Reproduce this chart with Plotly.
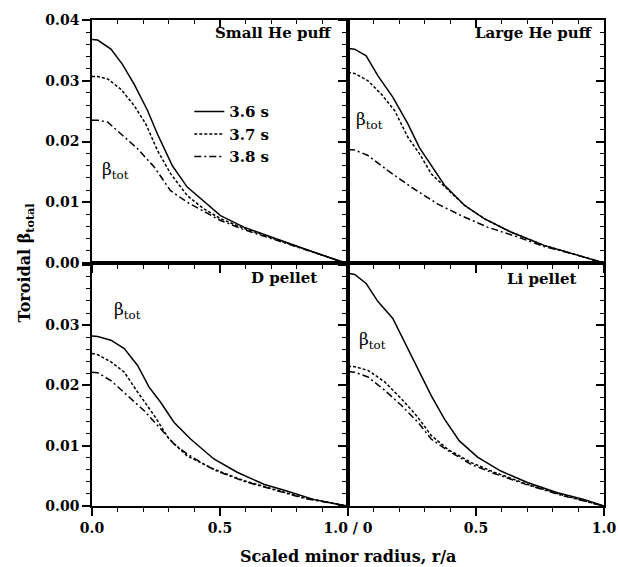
import plotly.graph_objects as go

# ---- data ----
times = ["3.6 s", "3.7 s", "3.8 s"]

# Panel 1: Small He puff
p1_x36 = [0.0, 0.022, 0.074, 0.119, 0.165, 0.217, 0.256, 0.314, 0.372, 0.424, 0.502, 0.593, 0.697, 0.826, 0.969, 1.0]
p1_y36 = [0.0368, 0.0367, 0.0352, 0.0327, 0.0294, 0.0251, 0.0212, 0.0160, 0.0125, 0.0106, 0.0078, 0.0059, 0.0043, 0.0024, 0.0003, 0.0]
p1_x37 = [0.0, 0.022, 0.061, 0.113, 0.165, 0.210, 0.256, 0.307, 0.372, 0.437, 0.502, 0.593, 0.697, 0.826, 0.969, 1.0]
p1_y37 = [0.0307, 0.0307, 0.0303, 0.0286, 0.0259, 0.0229, 0.0185, 0.0147, 0.0111, 0.0089, 0.0073, 0.0057, 0.0042, 0.0024, 0.0003, 0.0]
p1_x38 = [0.0, 0.022, 0.061, 0.113, 0.178, 0.243, 0.307, 0.372, 0.437, 0.502, 0.593, 0.697, 0.826, 0.969, 1.0]
p1_y38 = [0.0235, 0.0235, 0.0232, 0.0212, 0.0188, 0.0158, 0.0119, 0.0100, 0.0085, 0.0070, 0.0055, 0.0041, 0.0023, 0.0003, 0.0]

# Panel 2: Large He puff
p2_x36 = [0.0, 0.026, 0.071, 0.117, 0.175, 0.234, 0.279, 0.331, 0.377, 0.455, 0.532, 0.636, 0.766, 0.896, 0.987, 1.0]
p2_y36 = [0.0353, 0.0352, 0.0341, 0.0308, 0.0273, 0.0229, 0.0190, 0.0158, 0.0128, 0.0095, 0.0073, 0.0051, 0.0029, 0.0013, 0.0002, 0.0]
p2_x37 = [0.0, 0.026, 0.078, 0.130, 0.182, 0.234, 0.279, 0.325, 0.377, 0.455, 0.532, 0.636, 0.766, 0.896, 0.987, 1.0]
p2_y37 = [0.0314, 0.0312, 0.0300, 0.0278, 0.0251, 0.0207, 0.0180, 0.0147, 0.0126, 0.0095, 0.0073, 0.0051, 0.0029, 0.0013, 0.0002, 0.0]
p2_x38 = [0.0, 0.026, 0.078, 0.156, 0.247, 0.351, 0.442, 0.545, 0.662, 0.766, 0.896, 0.987, 1.0]
p2_y38 = [0.0187, 0.0186, 0.0177, 0.0152, 0.0125, 0.0097, 0.0078, 0.0059, 0.0043, 0.0027, 0.0013, 0.0002, 0.0]

# Panel 3: D pellet
p3_x36 = [0.0, 0.022, 0.074, 0.126, 0.178, 0.223, 0.268, 0.320, 0.385, 0.476, 0.567, 0.671, 0.761, 0.865, 0.969, 1.0]
p3_y36 = [0.0282, 0.0281, 0.0275, 0.0261, 0.0233, 0.0197, 0.0172, 0.0139, 0.0111, 0.0078, 0.0056, 0.0036, 0.0025, 0.0011, 0.0002, 0.0]
p3_x37 = [0.0, 0.022, 0.074, 0.126, 0.178, 0.243, 0.301, 0.372, 0.476, 0.593, 0.709, 0.826, 0.969, 1.0]
p3_y37 = [0.0253, 0.0251, 0.0239, 0.0222, 0.0189, 0.0150, 0.0111, 0.0083, 0.0061, 0.0042, 0.0028, 0.0014, 0.0002, 0.0]
p3_x38 = [0.0, 0.022, 0.074, 0.139, 0.204, 0.268, 0.320, 0.372, 0.476, 0.593, 0.709, 0.826, 0.969, 1.0]
p3_y38 = [0.0222, 0.0221, 0.0208, 0.0183, 0.0158, 0.0128, 0.0103, 0.0086, 0.0060, 0.0041, 0.0027, 0.0013, 0.0002, 0.0]

# Panel 4: Li pellet
p4_x36 = [0.0, 0.026, 0.071, 0.117, 0.175, 0.221, 0.273, 0.325, 0.377, 0.435, 0.506, 0.597, 0.701, 0.818, 0.922, 0.981, 1.0]
p4_y36 = [0.0386, 0.0384, 0.0369, 0.0339, 0.0311, 0.0272, 0.0228, 0.0183, 0.0144, 0.0108, 0.0081, 0.0058, 0.0039, 0.0022, 0.0011, 0.0002, 0.0]
p4_x37 = [0.0, 0.026, 0.078, 0.143, 0.208, 0.273, 0.325, 0.390, 0.481, 0.571, 0.701, 0.831, 0.981, 1.0]
p4_y37 = [0.0232, 0.0231, 0.0225, 0.0206, 0.0178, 0.0147, 0.0117, 0.0094, 0.0072, 0.0056, 0.0036, 0.0019, 0.0002, 0.0]
p4_x38 = [0.0, 0.026, 0.078, 0.143, 0.208, 0.273, 0.325, 0.390, 0.481, 0.571, 0.701, 0.831, 0.981, 1.0]
p4_y38 = [0.0223, 0.0222, 0.0214, 0.0192, 0.0167, 0.0139, 0.0111, 0.0092, 0.0069, 0.0054, 0.0035, 0.0018, 0.0002, 0.0]

panel_titles = ["Small He puff", "Large He puff", "D pellet", "Li pellet"]
x_alias_left = {"1.0": " "}
x_alias_right = {"0.0": "1.0 / 0"}
y_alias_bottom = {"0.04": " "}
x_major_inner = [0.5]
x_minor_pos = [0.1, 0.2, 0.3, 0.4, 0.6, 0.7, 0.8, 0.9]
y_major_inner = [0.01, 0.02, 0.03]
y_minor_pos = [0.002, 0.004, 0.006, 0.008, 0.012, 0.014, 0.016, 0.018,
               0.022, 0.024, 0.026, 0.028, 0.032, 0.034, 0.036, 0.038]

panels = [
    (p1_x36, p1_y36, p1_x37, p1_y37, p1_x38, p1_y38),
    (p2_x36, p2_y36, p2_x37, p2_y37, p2_x38, p2_y38),
    (p3_x36, p3_y36, p3_x37, p3_y37, p3_x38, p3_y38),
    (p4_x36, p4_y36, p4_x37, p4_y37, p4_x38, p4_y38),
]

FONT = "DejaVu Serif"
dashes = ["solid", "3px,2px", "7px,3px,2px,3px"]

fig = go.Figure()
for i, pdata in enumerate(panels):
    n = i + 1
    xa = "x" if n == 1 else f"x{n}"
    ya = "y" if n == 1 else f"y{n}"
    for k in range(3):
        fig.add_trace(go.Scatter(
            x=pdata[2 * k], y=pdata[2 * k + 1], mode="lines",
            line=dict(color="black", width=1.5, dash=dashes[k]),
            name=times[k], showlegend=(n == 1),
            xaxis=xa, yaxis=ya))

xdom = {1: [0, 0.5], 2: [0.5, 1], 3: [0, 0.5], 4: [0.5, 1]}
ydom = {1: [0.5, 1], 2: [0.5, 1], 3: [0, 0.5], 4: [0, 0.5]}
tickfont = dict(family=FONT, size=14, color="black", weight="bold")
TICK = "black"

layout = dict(
    template="none",
    width=618, height=567,
    margin=dict(l=92, r=14, t=20, b=61),
    plot_bgcolor="white", paper_bgcolor="white",
    showlegend=True,
    legend=dict(x=0.19, y=0.845, xanchor="left", yanchor="top",
                bgcolor="rgba(0,0,0,0)",
                font=dict(family=FONT, size=15, color="black", weight="bold"),
                tracegroupgap=0),
)

for n in range(1, 5):
    suffix = "" if n == 1 else str(n)
    is_bottom = n in (3, 4)
    is_left = n in (1, 3)
    yr = [0, 0.0403] if is_bottom else [0, 0.04]
    layout["xaxis" + suffix] = dict(
        domain=xdom[n], range=[0, 1], anchor="y" + suffix,
        showgrid=False, zeroline=False,
        showline=True, mirror=True, linecolor="black", linewidth=1.5,
        ticks="outside", ticklen=8, tickwidth=1.5, tickcolor=TICK,
        dtick=0.5, tick0=0, tickformat=".1f",
        labelalias=(x_alias_left if is_left else x_alias_right),
        minor=dict(ticks="outside", ticklen=4, tickwidth=1, tickcolor=TICK, dtick=0.1, tick0=0, showgrid=False),
        showticklabels=is_bottom, tickfont=tickfont)
    layout["yaxis" + suffix] = dict(
        domain=ydom[n], range=yr, anchor="x" + suffix,
        showgrid=False, zeroline=False,
        showline=True, mirror=True, linecolor="black", linewidth=1.5,
        ticks="outside", ticklen=8, tickwidth=1.5, tickcolor=TICK,
        dtick=0.01, tick0=0, tickformat=".2f",
        labelalias=(y_alias_bottom if is_bottom else {}),
        minor=dict(ticks="outside", ticklen=4, tickwidth=1, tickcolor=TICK, dtick=0.002, tick0=0, showgrid=False),
        showticklabels=is_left, tickfont=tickfont)

# overlay axes carrying the inward ticks on the top edges (panels 1, 2)
# and right edges (panels 2, 4)
overlay_specs = [
    ("xaxis5", "x", "y", x_major_inner, 8), ("xaxis6", "x", "y", x_minor_pos, 4),
    ("xaxis7", "x2", "y2", x_major_inner, 8), ("xaxis8", "x2", "y2", x_minor_pos, 4),
]
for name, over, anch, vals, ln in overlay_specs:
    layout[name] = dict(overlaying=over, side="top", anchor=anch, range=[0, 1],
                        showgrid=False, zeroline=False, showline=False,
                        ticks="inside", ticklen=ln, tickwidth=1.5 if ln == 8 else 1, tickcolor=TICK,
                        tickvals=vals, showticklabels=False)
yoverlay_specs = [
    ("yaxis5", "y2", "x2", y_major_inner, 8, [0, 0.04]), ("yaxis6", "y2", "x2", y_minor_pos, 4, [0, 0.04]),
    ("yaxis7", "y4", "x4", y_major_inner, 8, [0, 0.0403]), ("yaxis8", "y4", "x4", y_minor_pos, 4, [0, 0.0403]),
]
for name, over, anch, vals, ln, rng in yoverlay_specs:
    layout[name] = dict(overlaying=over, side="right", anchor=anch, range=rng,
                        showgrid=False, zeroline=False, showline=False,
                        ticks="inside", ticklen=ln, tickwidth=1.5 if ln == 8 else 1, tickcolor=TICK,
                        tickvals=vals, showticklabels=False)

fig.update_layout(**layout)

# invisible traces binding the overlay axes
dummy_pairs = [("x5", "y"), ("x6", "y"), ("x7", "y2"), ("x8", "y2"),
               ("x2", "y5"), ("x2", "y6"), ("x4", "y7"), ("x4", "y8")]
for xa, ya in dummy_pairs:
    fig.add_trace(go.Scatter(x=[0.5], y=[0.01], xaxis=xa, yaxis=ya,
                             showlegend=False, mode="markers",
                             marker=dict(opacity=0)))

ann = []
title_font = dict(family=FONT, size=15, color="black", weight="bold")
title_pos = [(0.945, 0.945, "x", "y"), (0.965, 0.945, "x2", "y2"),
             (0.885, 0.94, "x3", "y3"), (0.9, 0.935, "x4", "y4")]
for t, (px, py, xr, yr_) in zip(panel_titles, title_pos):
    ann.append(dict(text=t, x=px, y=py * (0.0403 if xr in ("x3", "x4") else 0.04),
                    xref=xr, yref=yr_, xanchor="right", yanchor="middle",
                    showarrow=False, font=title_font))
beta_pos = [(0.03, 0.0152, "x", "y"), (0.025, 0.0234, "x2", "y2"),
            (0.08, 0.0325, "x3", "y3"), (0.035, 0.0275, "x4", "y4")]
for px, py, xr, yr_ in beta_pos:
    ann.append(dict(text="β<sub>tot</sub>", x=px, y=py, xref=xr, yref=yr_,
                    xanchor="left", yanchor="middle", showarrow=False,
                    font=dict(family=FONT, size=17, color="black")))
ann.append(dict(text="Scaled minor radius, r/a", x=0.5, y=-0.103, xref="paper", yref="paper",
                xanchor="center", yanchor="middle", showarrow=False,
                font=dict(family=FONT, size=16, color="black", weight="bold")))
ann.append(dict(text="Toroidal β<sub>total</sub>", x=-0.13, y=0.5, xref="paper", yref="paper",
                xanchor="center", yanchor="middle", showarrow=False, textangle=-90,
                font=dict(family=FONT, size=16, color="black", weight="bold")))
fig.update_layout(annotations=ann)

fig.write_html("out.html")
